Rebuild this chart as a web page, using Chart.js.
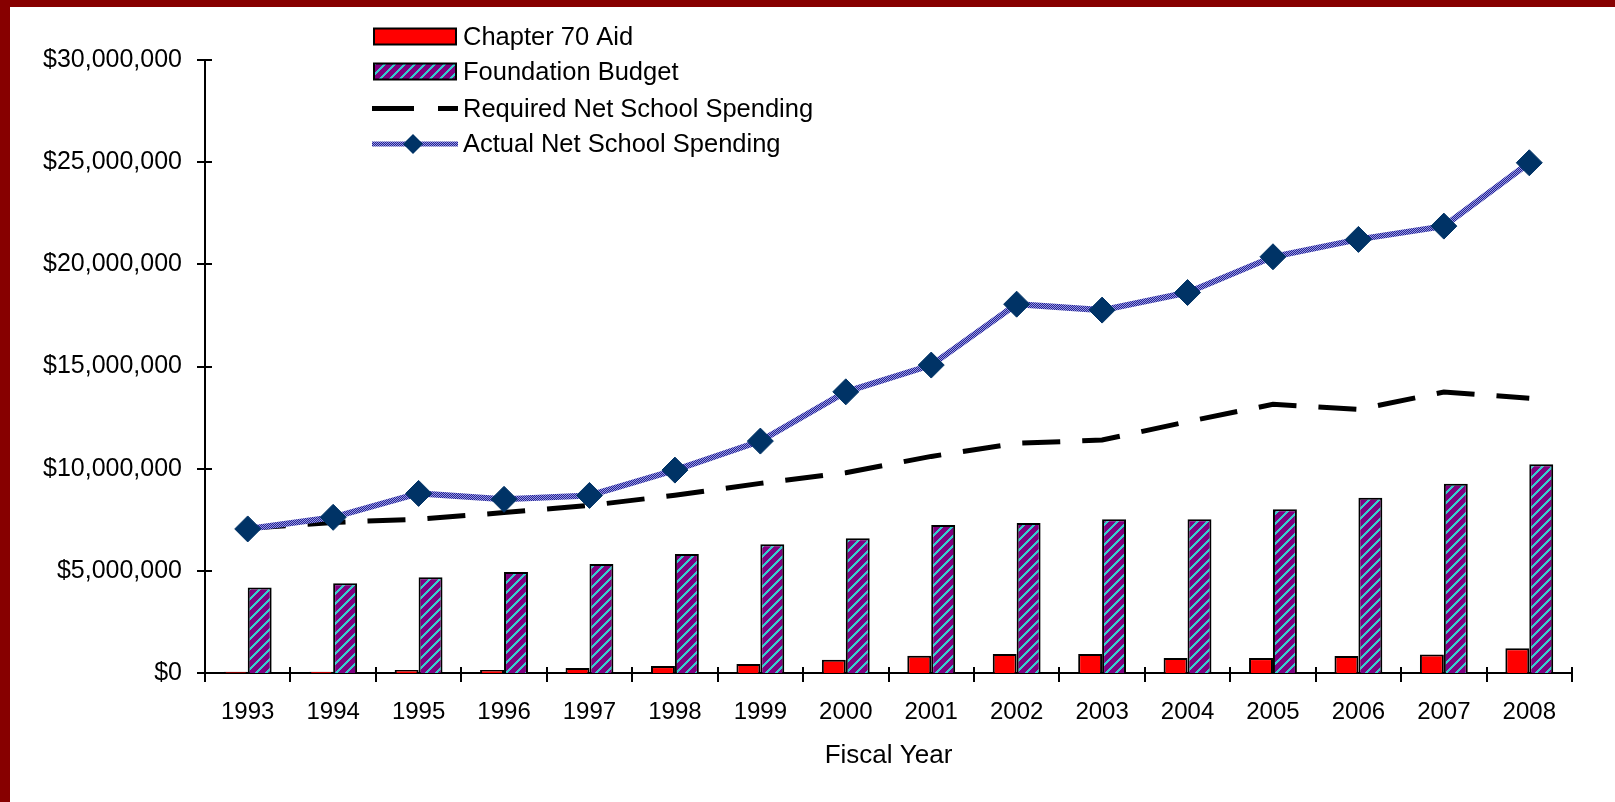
<!DOCTYPE html>
<html>
<head>
<meta charset="utf-8">
<script src="https://cdn.jsdelivr.net/npm/chart.js@4.4.1/dist/chart.umd.min.js"></script>
<style>
  html, body { margin: 0; padding: 0; width: 1615px; height: 802px; background: #870000; overflow: hidden; }
  #wrap { position: absolute; left: 10px; top: 7px; width: 1605px; height: 795px; background: #ffffff; }
  canvas { display: block; }
</style>
</head>
<body>
<div id="wrap"><canvas id="c"></canvas></div>
<script>
// ---- data (values in dollars) ----
const years = ['1993','1994','1995','1996','1997','1998','1999','2000','2001','2002','2003','2004','2005','2006','2007','2008'];
const chapter70Aid = [60000, 65000, 150000, 150000, 240000, 340000, 440000, 650000, 850000, 930000, 930000, 740000, 730000, 830000, 910000, 1210000];
const foundationBudget = [4190000, 4390000, 4680000, 4940000, 5330000, 5820000, 6300000, 6590000, 7240000, 7340000, 7530000, 7530000, 8010000, 8580000, 9260000, 10220000];
const requiredNSS = [7080000, 7370000, 7530000, 7850000, 8200000, 8700000, 9280000, 9800000, 10600000, 11240000, 11400000, 12300000, 13150000, 12900000, 13750000, 13450000];
const actualNSS = [7050000, 7620000, 8790000, 8500000, 8690000, 9930000, 11350000, 13760000, 15070000, 18050000, 17760000, 18620000, 20370000, 21220000, 21870000, 24970000];
const yTickValues = [0, 5000000, 10000000, 15000000, 20000000, 25000000, 30000000];
const seriesNames = ['Chapter 70 Aid', 'Foundation Budget', 'Required Net School Spending', 'Actual Net School Spending'];
const axisTitle = 'Fiscal Year';

const FONT = '"Liberation Sans", Arial, sans-serif';

// crisp hatch pattern: purple with cyan "/" stripes
function makeHatch() {
  const s = 10;
  const c = document.createElement('canvas');
  c.width = s; c.height = s;
  const g = c.getContext('2d');
  g.fillStyle = '#800080';
  g.fillRect(0, 0, s, s);
  g.fillStyle = '#33cccc';
  for (let y = 0; y < s; y++) {
    for (let x = 0; x < s; x++) {
      if ((x + y) % s < 3) g.fillRect(x, y, 1, 1);
    }
  }
  return g.createPattern(c, 'repeat');
}
// checker pattern for actual spending line
function makeChecker() {
  const c = document.createElement('canvas');
  c.width = 2; c.height = 2;
  const g = c.getContext('2d');
  g.fillStyle = '#9a9ae0'; g.fillRect(0, 0, 2, 2);
  g.fillStyle = '#222296'; g.fillRect(0, 0, 1, 1); g.fillRect(1, 1, 1, 1);
  return g.createPattern(c, 'repeat');
}
const hatch = makeHatch();
const checker = makeChecker();

const axisPlugin = {
  id: 'axisTicks',
  afterDraw(chart) {
    const ctx = chart.ctx;
    const ys = chart.scales.y;
    const a = chart.chartArea;
    ctx.save();
    ctx.strokeStyle = '#000';
    ctx.lineWidth = 2;
    ctx.beginPath();
    yTickValues.forEach(v => {
      const y = Math.round(ys.getPixelForValue(v));
      ctx.moveTo(a.left - 8, y); ctx.lineTo(a.left + 7, y);
    });
    const n = years.length;
    for (let i = 0; i <= n; i++) {
      const x = Math.round(a.left + (a.right - a.left) * i / n);
      ctx.moveTo(x, a.bottom - 6); ctx.lineTo(x, a.bottom + 9);
    }
    ctx.stroke();
    ctx.restore();
  }
};

const legendPlugin = {
  id: 'customLegend',
  afterDraw(chart) {
    const ctx = chart.ctx;
    const x0 = 364, x1 = 446, tx = 453;
    const rows = [29.5, 64.5, 101.5, 137];
    ctx.save();
    ctx.fillStyle = '#ff0000';
    ctx.fillRect(x0, rows[0] - 8, x1 - x0, 16);
    ctx.strokeStyle = '#000'; ctx.lineWidth = 2;
    ctx.strokeRect(x0, rows[0] - 8, x1 - x0, 16);
    ctx.fillStyle = hatch;
    ctx.fillRect(x0, rows[1] - 8, x1 - x0, 16);
    ctx.strokeRect(x0, rows[1] - 8, x1 - x0, 16);
    ctx.strokeStyle = '#000'; ctx.lineWidth = 5;
    ctx.beginPath();
    ctx.moveTo(x0 - 2, rows[2]); ctx.lineTo(x0 + 40, rows[2]);
    ctx.moveTo(x0 + 64, rows[2]); ctx.lineTo(x1 + 2, rows[2]);
    ctx.stroke();
    ctx.strokeStyle = checker; ctx.lineWidth = 5;
    ctx.beginPath();
    ctx.moveTo(x0 - 2, rows[3]); ctx.lineTo(x1 + 2, rows[3]);
    ctx.stroke();
    const cx = (x0 + x1) / 2 - 2;
    ctx.fillStyle = '#003366';
    ctx.beginPath();
    ctx.moveTo(cx, rows[3] - 10); ctx.lineTo(cx + 10, rows[3]);
    ctx.lineTo(cx, rows[3] + 10); ctx.lineTo(cx - 10, rows[3]);
    ctx.closePath(); ctx.fill();
    ctx.fillStyle = '#000';
    ctx.font = '25.5px ' + FONT;
    ctx.textBaseline = 'middle';
    ctx.textAlign = 'left';
    seriesNames.forEach((s, i) => ctx.fillText(s, tx, rows[i] + 1));
    ctx.restore();
  }
};

new Chart(document.getElementById('c'), {
  type: 'bar',
  data: {
    labels: years,
    datasets: [
      { type: 'bar', label: seriesNames[0], data: chapter70Aid, backgroundColor: '#ff0000', borderColor: '#000', borderWidth: 2, order: 2,
        categoryPercentage: 0.56, barPercentage: 1.0 },
      { type: 'bar', label: seriesNames[1], data: foundationBudget, backgroundColor: hatch, borderColor: '#000', borderWidth: 2, order: 2,
        categoryPercentage: 0.56, barPercentage: 1.0 },
      { type: 'line', label: seriesNames[2], data: requiredNSS, borderColor: '#000', borderWidth: 5, borderDash: [38, 22],
        pointRadius: 0, fill: false, tension: 0, order: 1 },
      { type: 'line', label: seriesNames[3], data: actualNSS, borderColor: checker, borderWidth: 6,
        pointStyle: 'rectRot', pointRadius: 13, pointBackgroundColor: '#003366', pointBorderColor: '#003366', pointBorderWidth: 1,
        fill: false, tension: 0, order: 0 }
    ]
  },
  options: {
    responsive: true,
    maintainAspectRatio: false,
    animation: false,
    layout: { padding: { top: 53, right: 43, left: 0, bottom: 0 } },
    plugins: { legend: { display: false }, tooltip: { enabled: false } },
    scales: {
      x: {
        offset: true,
        grid: { display: false },
        border: { display: true, color: '#000', width: 2 },
        ticks: { color: '#000', padding: 17, font: { family: FONT, size: 24 }, maxRotation: 0, autoSkip: false },
        title: { display: true, text: axisTitle, color: '#000', font: { family: FONT, size: 26 }, padding: { top: 0, bottom: 31 } },
        afterFit(scale) { scale.height = 129; }
      },
      y: {
        min: 0, max: 30000000,
        afterBuildTicks(scale) { scale.ticks = yTickValues.map(v => ({ value: v })); },
        grid: { display: false },
        border: { display: true, color: '#000', width: 2 },
        ticks: { color: '#000', padding: 15, font: { family: FONT, size: 25 },
          callback: v => '$' + Number(v).toLocaleString('en-US') },
        afterFit(scale) { scale.width = 195; }
      }
    }
  },
  plugins: [axisPlugin, legendPlugin]
});
</script>
</body>
</html>
